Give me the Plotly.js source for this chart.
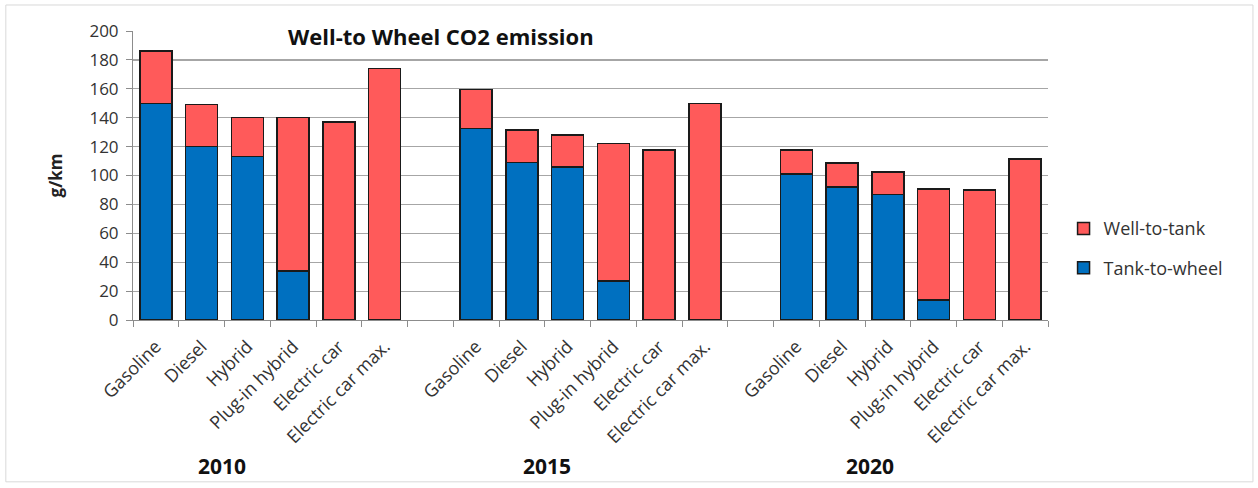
<!DOCTYPE html>
<html><head><meta charset="utf-8">
<script src="https://cdn.plot.ly/plotly-3.0.1.min.js"></script>
<style>body{margin:0;background:#fff}#c{width:1258px;height:488px}</style>
</head><body><div id="c"></div>
<script>
// Categories (20 slots: 6 bars, gap, 6 bars, gap, 6 bars)
const vehicles = ["Gasoline","Diesel","Hybrid","Plug-in hybrid","Electric car","Electric car max."];
const years = ["2010","2015","2020"];
// Total (well-to-wheel) g/km per year
const total2010 = [186, 149, 140, 140, 137, 174];
const total2015 = [159.5, 131.5, 128, 122, 117.5, 150];
const total2020 = [117.5, 108.5, 102.5, 90.5, 90, 111.5];
// Tank-to-wheel g/km per year
const ttw2010 = [150, 120, 113, 34, 0, 0];
const ttw2015 = [132.5, 109, 106, 27, 0, 0];
const ttw2020 = [101, 92, 87, 14, 0, 0];

const xs = [], ttw = [], wtt = [], ticktext = [];
const totals = [total2010, total2015, total2020];
const ttws = [ttw2010, ttw2015, ttw2020];
for (let g = 0; g < 3; g++) {
  for (let i = 0; i < vehicles.length; i++) {
    xs.push(g * 7 + i);
    ttw.push(ttws[g][i]);
    wtt.push(+(totals[g][i] - ttws[g][i]).toFixed(2));
    ticktext.push(vehicles[i]);
  }
}
const boundaries = [];
for (let k = 0; k <= 20; k++) boundaries.push(k - 0.5);

const font = "Open Sans, Liberation Sans, sans-serif";
const traces = [
  {type:"bar", name:"Tank-to-wheel", x:xs, y:ttw, legendgroup:"a", legendrank:2,
   marker:{color:"#0070C0", line:{color:"#1a1a1a", width:1.5}}, width:0.7},
  {type:"bar", name:"Well-to-tank", x:xs, y:wtt, legendgroup:"b", legendrank:1,
   marker:{color:"#FF5A5A", line:{color:"#1a1a1a", width:1.5}}, width:0.7},
  {type:"scatter", x:[0], y:[null], xaxis:"x2", showlegend:false, hoverinfo:"skip"}
];
const layout = {
  width:1258, height:488,
  margin:{l:133, r:210, t:31, b:168},
  paper_bgcolor:"#fff", plot_bgcolor:"#fff",
  barmode:"stack",
  font:{family:font, size:17, color:"#404040"},
  xaxis:{range:[-0.5,19.5], tickvals:xs, ticktext:ticktext, tickangle:-45, automargin:false,
         ticks:"", showgrid:false, zeroline:false, showline:true, linecolor:"#8c8c8c", linewidth:1,
         ticklabelstandoff:8,
         tickfont:{family:font, size:18, color:"#333"}},
  xaxis2:{range:[-0.5,19.5], overlaying:"x", matches:"x", anchor:"y", tickvals:boundaries,
          ticks:"outside", ticklen:6, tickcolor:"#8c8c8c", showticklabels:false,
          showgrid:false, zeroline:false, side:"bottom"},
  yaxis:{range:[0,200], dtick:20, ticks:"outside", ticklen:6, tickcolor:"#8c8c8c", automargin:false,
         showline:true, linecolor:"#8c8c8c", gridcolor:"#a6a6a6", gridwidth:1.2, zeroline:false,
         ticklabelstandoff:4,
         tickfont:{family:font, size:17, color:"#333"},
         title:{text:"<b>g/km</b>", font:{family:font, size:17, color:"#222"}, standoff:22}},
  legend:{x:1.017, y:0.38, xanchor:"left", yanchor:"top", traceorder:"grouped",
          tracegroupgap:13, font:{family:font, size:18, color:"#333"}, bgcolor:"rgba(0,0,0,0)"},
  annotations:[
    {text:"<b>Well-to Wheel CO2 emission</b>", xref:"paper", yref:"paper", x:0.337, y:0.983,
     xanchor:"center", yanchor:"middle", showarrow:false, font:{family:font, size:22, color:"#111"}},
    {text:"<b>"+years[0]+"</b>", xref:"x", yref:"paper", x:1.45, y:-0.505, yanchor:"middle", showarrow:false,
     font:{family:font, size:21, color:"#111"}},
    {text:"<b>"+years[1]+"</b>", xref:"x", yref:"paper", x:8.55, y:-0.505, yanchor:"middle", showarrow:false,
     font:{family:font, size:21, color:"#111"}},
    {text:"<b>"+years[2]+"</b>", xref:"x", yref:"paper", x:15.6, y:-0.505, yanchor:"middle", showarrow:false,
     font:{family:font, size:21, color:"#111"}}
  ],
  shapes:[{type:"rect", xref:"paper", yref:"paper", x0:-0.139, x1:1.224, y0:-0.56, y1:1.09,
           line:{color:"#d9d9d9", width:1}}],
  showlegend:true
};
Plotly.newPlot("c", traces, layout, {displayModeBar:false, staticPlot:true});
</script></body></html>
